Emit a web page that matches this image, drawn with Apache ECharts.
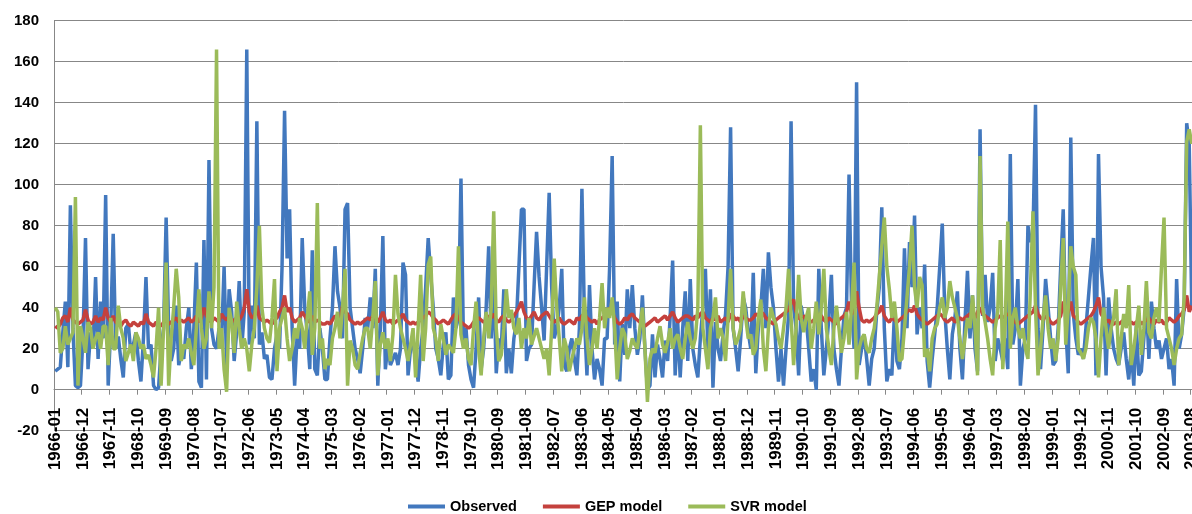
<!DOCTYPE html>
<html><head><meta charset="utf-8">
<script src="https://cdn.jsdelivr.net/npm/echarts/dist/echarts.min.js"></script>
<style>html,body{margin:0;padding:0;background:#fff}#c{width:1192px;height:514px}</style>
</head><body><div id="c"></div>
<script>
// Monthly series, 1966-01 .. 2003-08 (452 months)
const startYear = 1966;
const startMonth = 1;

const observed = [
9,10,11,28,43,11,90,30,2,1,2,25,
74,10,28,20,55,15,43,25,95,2,30,76,
20,26,15,6,30,32,18,22,28,14,4,25,
55,20,22,2,0,1,20,30,84,30,14,20,
41,12,18,15,30,40,10,30,62,4,1,73,
5,112,30,22,20,30,25,60,12,49,38,14,
28,53,20,38,166,22,41,25,131,22,28,15,
17,6,5,20,27,20,60,136,64,88,30,2,
27,20,74,40,28,10,68,10,7,30,20,5,
5,25,40,70,48,40,25,88,91,40,30,20,
15,8,20,35,30,45,30,59,2,30,75,10,
22,12,15,18,12,20,62,56,7,20,22,15,
4,20,30,50,74,56,40,20,15,7,22,28,
5,7,45,30,35,103,22,30,12,5,1,20,
45,10,20,40,70,25,54,8,25,20,49,8,
20,8,25,33,60,88,88,14,20,22,50,77,
55,40,24,60,96,50,25,30,40,59,12,9,
20,25,15,7,30,98,35,7,51,20,5,15,
10,2,25,25,60,114,22,43,4,32,17,49,
30,51,30,17,25,46,20,0,2,27,6,22,
15,6,24,14,35,63,7,33,6,30,48,14,
54,20,12,6,25,40,59,19,49,1,33,20,
14,27,37,60,128,30,20,9,25,45,40,28,
20,57,8,30,40,59,30,67,50,40,20,4,
20,2,20,36,131,40,30,7,41,33,35,20,
4,10,0,59,30,7,20,35,56,20,10,2,
20,36,40,105,41,20,150,12,20,27,15,2,
15,20,38,50,89,30,4,10,7,37,14,10,
25,69,30,72,50,85,27,40,30,61,14,1,
15,27,40,60,81,38,20,5,27,35,48,20,
5,33,58,25,46,20,9,127,36,56,33,40,
57,14,25,20,14,25,10,115,22,30,54,2,
20,25,80,72,75,139,30,10,30,54,40,25,
12,14,30,60,88,30,8,123,37,25,17,20,
15,30,45,60,74,7,115,60,45,7,45,30,
20,15,12,20,28,15,5,20,2,31,7,9,
25,43,15,43,30,20,24,15,20,25,10,15,
2,54,20,27,40,130,120,40
];

const gepModel = [
31,30,32,35,36,33,40,34,33,32,33,34,
39,34,32,33,36,33,35,34,40,35,33,36,
33,32,31,33,34,32,31,33,32,31,33,32,
37,33,32,31,33,32,31,33,34,32,33,34,
35,33,34,33,34,35,33,34,36,33,35,40,
36,34,33,35,34,33,37,35,34,36,33,34,
35,34,36,40,49,38,35,36,41,35,34,33,
34,33,32,34,35,38,40,46,38,40,35,33,
34,35,38,36,34,33,36,33,34,33,32,32,
33,32,34,36,35,34,41,38,37,34,33,32,
33,32,33,34,35,34,36,35,33,35,38,34,
33,34,32,33,34,35,37,34,33,32,33,32,
33,34,35,36,38,37,35,34,32,33,34,33,
32,34,36,37,35,33,32,31,30,31,33,34,
35,34,33,34,36,35,37,34,33,35,36,34,
33,34,36,38,40,43,38,35,34,36,38,35,
34,36,37,38,36,34,33,34,35,33,32,33,
34,33,32,35,34,36,37,35,34,33,34,32,
34,35,36,37,40,38,35,33,32,33,35,34,
36,37,35,34,33,32,31,32,33,34,35,33,
34,35,36,34,36,38,35,33,34,35,36,36,
35,34,36,35,37,38,35,34,33,35,34,36,
33,34,35,33,37,36,34,35,33,36,35,34,
34,35,37,36,38,37,35,34,33,32,34,35,
36,37,38,39,42,44,38,35,34,36,35,34,
33,34,35,37,36,34,33,35,34,33,32,34,
35,36,38,43,37,38,48,40,34,33,34,33,
34,35,37,38,41,36,34,33,35,34,33,34,
35,36,38,39,38,41,37,35,34,33,32,33,
34,35,36,37,36,34,33,34,35,33,34,35,
34,35,36,37,36,35,38,40,37,36,35,34,
33,34,35,36,35,36,37,36,34,33,32,33,
34,35,36,37,38,41,37,35,34,36,35,33,
32,33,34,36,43,37,38,43,36,35,33,32,
33,34,35,36,38,41,45,37,35,33,34,32,
32,33,32,33,34,33,32,33,32,33,34,32,
33,34,35,33,32,34,33,34,32,33,35,34,
33,34,36,37,39,46,38,41
];

const svrModel = [
40,38,18,20,31,22,25,28,94,2,31,25,
18,33,30,20,25,28,20,31,31,12,35,20,
20,41,30,25,14,18,22,14,28,25,20,22,
15,17,12,6,20,40,2,30,62,2,25,40,
59,45,14,22,20,25,18,12,30,49,30,20,
25,48,30,50,166,20,30,10,-1,40,33,18,
43,30,20,25,20,9,22,30,50,80,40,30,
25,23,35,54,9,30,35,40,25,14,20,30,
25,35,30,20,35,48,17,30,91,20,25,10,
15,12,25,30,38,25,40,59,2,24,20,12,
10,18,25,30,30,20,35,53,7,22,28,20,
25,14,27,56,37,30,25,20,14,22,30,6,
30,56,14,30,61,65,30,25,14,32,25,17,
22,20,18,30,70,27,20,25,15,12,30,43,
20,7,25,38,25,40,87,30,14,17,30,49,
35,39,30,27,35,20,30,25,35,22,26,30,
25,20,15,20,7,30,64,40,25,9,25,20,
9,15,20,25,22,30,45,25,12,20,30,20,
35,52,30,40,35,45,30,5,20,30,27,15,
19,25,22,20,30,40,20,-6,15,20,18,25,
31,22,18,23,30,20,25,27,20,15,25,33,
25,20,25,40,129,30,20,10,30,35,45,25,
30,25,14,35,59,30,22,25,30,48,35,25,
27,17,20,35,44,20,9,30,40,35,32,25,
20,30,40,59,35,12,30,56,35,28,35,40,
20,30,43,27,40,59,30,20,12,30,41,30,
18,25,38,22,40,62,5,20,25,27,20,18,
25,30,40,55,70,84,60,49,35,43,30,14,
15,30,45,60,80,50,40,55,51,16,20,9,
25,30,32,40,45,35,40,53,45,40,35,25,
15,25,35,30,46,30,7,114,40,33,25,15,
7,30,38,73,10,33,82,20,35,40,30,25,
30,20,15,50,87,40,7,20,35,46,30,20,
25,14,25,50,74,22,40,70,60,56,20,18,
15,20,30,35,33,25,6,25,40,30,20,30,
35,49,12,25,37,30,51,12,20,30,41,17,
30,53,28,25,35,40,33,60,84,30,25,20,
12,20,25,27,45,121,127,120
];

const seriesNames = ['Observed', 'GEP model', 'SVR model'];
const seriesColors = ['#4278be', '#c4413d', '#9bbb59'];

const categories = [];
for (let i = 0; i < observed.length; i++) {
  const m = startMonth - 1 + i;
  const y = startYear + Math.floor(m / 12);
  const mm = (m % 12) + 1;
  categories.push(y + '-' + (mm < 10 ? '0' : '') + mm);
}

const chart = echarts.init(document.getElementById('c'), null, {renderer: 'canvas'});
const gridColor = '#878787';
const gridTop = 20.7, gridHeight = 410;
// distance from grid bottom (-20) up to the zero line: 20 of 200 units
const zeroOffset = -gridHeight * 20 / 200;
chart.setOption({
  animation: false,
  backgroundColor: '#ffffff',
  grid: {left: 54, top: gridTop, width: 1139, height: gridHeight, containLabel: false, outerBoundsMode: 'none'},
  legend: {
    top: 494, left: 403,
    data: seriesNames.map(n => ({name: n, icon: 'rect'})),
    itemWidth: 37, itemHeight: 4, itemGap: 26,
    textStyle: {fontFamily: 'Liberation Sans', fontWeight: 'bold', fontSize: 14.5, color: '#000'}
  },
  xAxis: {
    type: 'category',
    data: categories,
    boundaryGap: true,
    offset: zeroOffset,
    axisLine: {show: true, onZero: false, lineStyle: {color: gridColor, width: 1}},
    axisTick: {show: true, interval: 10, length: 5, lineStyle: {color: gridColor}},
    axisLabel: {interval: 10, rotate: 90, margin: 18, fontFamily: 'Liberation Sans', fontWeight: 'bold', fontSize: 17, color: '#000'},
    splitLine: {show: false}
  },
  yAxis: {
    type: 'value',
    min: -20, max: 180, interval: 20,
    axisLine: {show: true, lineStyle: {color: gridColor}},
    axisTick: {show: false},
    axisLabel: {margin: 15, fontFamily: 'Liberation Sans', fontWeight: 'bold', fontSize: 15, color: '#000'},
    splitLine: {show: true, lineStyle: {color: gridColor, width: 1}}
  },
  series: [
    {name: seriesNames[0], type: 'line', data: observed, symbol: 'none', color: seriesColors[0], lineStyle: {width: 3.5, color: seriesColors[0]}, z: 2},
    {name: seriesNames[1], type: 'line', data: gepModel, symbol: 'none', color: seriesColors[1], lineStyle: {width: 3.5, color: seriesColors[1]}, z: 3},
    {name: seriesNames[2], type: 'line', data: svrModel, symbol: 'none', color: seriesColors[2], lineStyle: {width: 3.5, color: seriesColors[2]}, z: 4}
  ]
});
</script>
</body></html>
